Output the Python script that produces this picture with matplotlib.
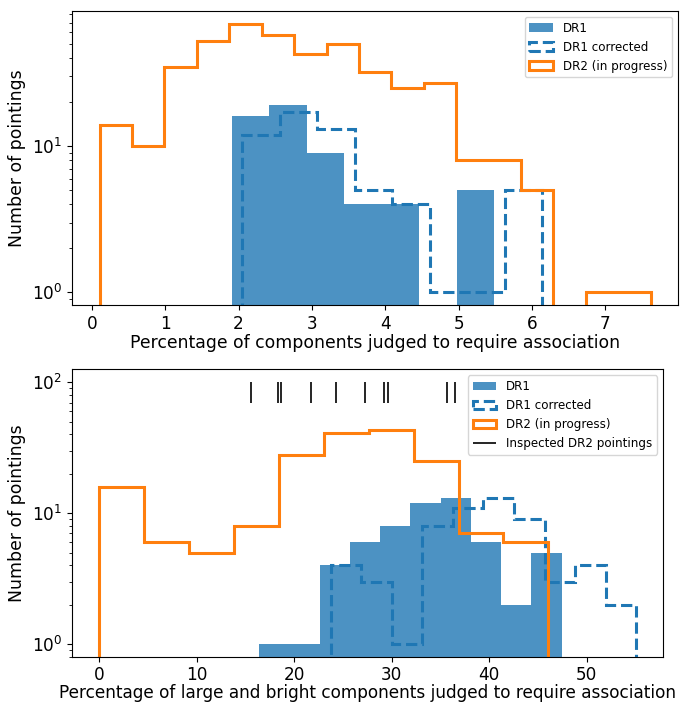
import matplotlib
matplotlib.use('Agg')
import matplotlib.pyplot as plt
import numpy as np

# ---- top panel: percentage of components judged to require association
top_dr1_edges = [1.906, 2.418, 2.929, 3.441, 3.952, 4.464, 4.975, 5.487]
top_dr1_counts = [16, 19, 9, 4, 4, 0, 5]

top_dr1c_edges = [2.052, 2.563, 3.074, 3.585, 4.097, 4.608, 5.119, 5.630, 6.142]
top_dr1c_counts = [12, 17, 13, 5, 4, 1, 1, 5]

top_dr2_edges = [0.105, 0.547, 0.989, 1.431, 1.873, 2.315, 2.757, 3.199, 3.641,
                 4.083, 4.525, 4.967, 5.409, 5.851, 6.293, 6.735, 7.177, 7.620]
top_dr2_counts = [14, 10, 35, 52, 68, 58, 43, 50, 32, 25, 27, 8, 8, 5, 0, 1, 1]

# ---- bottom panel: large and bright components
bot_dr1_edges = [16.41, 19.51, 22.61, 25.71, 28.81, 31.91, 35.01, 38.11, 41.21, 44.31, 47.41]
bot_dr1_counts = [1, 1, 4, 6, 8, 12, 13, 6, 2, 5]

bot_dr1c_edges = [23.72, 26.85, 29.99, 33.12, 36.26, 39.39, 42.52, 45.66, 48.79, 51.93, 55.06]
bot_dr1c_counts = [4, 3, 1, 8, 11, 13, 9, 3, 4, 2]

bot_dr2_edges = [0.0, 4.605, 9.21, 13.815, 18.42, 23.025, 27.63, 32.235, 36.84, 41.445, 46.05]
bot_dr2_counts = [16, 6, 5, 8, 28, 41, 43, 25, 7, 6]

inspected = [15.60, 18.30, 18.61, 21.68, 24.24, 27.24, 29.22, 29.59, 35.64, 36.49]

plt.rcParams['font.size'] = 12.2


def centers(edges):
    e = np.asarray(edges)
    return 0.5 * (e[:-1] + e[1:])


fig = plt.figure(figsize=(6.81, 7.02), dpi=100)

# top panel
ax1 = fig.add_axes([72 / 681, 1 - 305 / 702, (678 - 72) / 681, (305 - 11) / 702])
ax1.hist(centers(top_dr1_edges), bins=top_dr1_edges, weights=top_dr1_counts,
         histtype='stepfilled', color='C0', alpha=0.8, log=True, label='DR1')
ax1.hist(centers(top_dr1c_edges), bins=top_dr1c_edges, weights=top_dr1c_counts,
         histtype='step', color='C0', ls='--', lw=2.2, log=True, label='DR1 corrected')
ax1.hist(centers(top_dr2_edges), bins=top_dr2_edges, weights=top_dr2_counts,
         histtype='step', color='C1', lw=2.2, log=True, label='DR2 (in progress)')
ax1.set_xlim(-0.27, 7.99)
ax1.set_ylim(0.82, 84)
ax1.set_xlabel('Percentage of components judged to require association',
               fontsize=12.4, labelpad=1)
ax1.set_ylabel('Number of pointings', fontsize=12.4)
ax1.legend(loc='upper right', fontsize=8.6)

# bottom panel
ax2 = fig.add_axes([72 / 681, 1 - 656.7 / 702, (663 - 72) / 681, (656.7 - 369.3) / 702])
ax2.hist(centers(bot_dr1_edges), bins=bot_dr1_edges, weights=bot_dr1_counts,
         histtype='stepfilled', color='C0', alpha=0.8, log=True, label='DR1')
ax2.hist(centers(bot_dr1c_edges), bins=bot_dr1c_edges, weights=bot_dr1c_counts,
         histtype='step', color='C0', ls='--', lw=2.2, log=True, label='DR1 corrected')
ax2.hist(centers(bot_dr2_edges), bins=bot_dr2_edges, weights=bot_dr2_counts,
         histtype='step', color='C1', lw=2.2, log=True, label='DR2 (in progress)')
ax2.vlines(inspected, 70, 100, color='k', lw=1.2, label='Inspected DR2 pointings')
ax2.set_xlim(-2.78, 57.8)
ax2.set_ylim(0.80, 126)
ax2.set_xlabel('Percentage of large and bright components judged to require association',
               labelpad=0)
ax2.set_ylabel('Number of pointings', fontsize=12.4)
ax2.legend(loc='upper right', fontsize=8.6)

fig.savefig('out.png', dpi=100)
